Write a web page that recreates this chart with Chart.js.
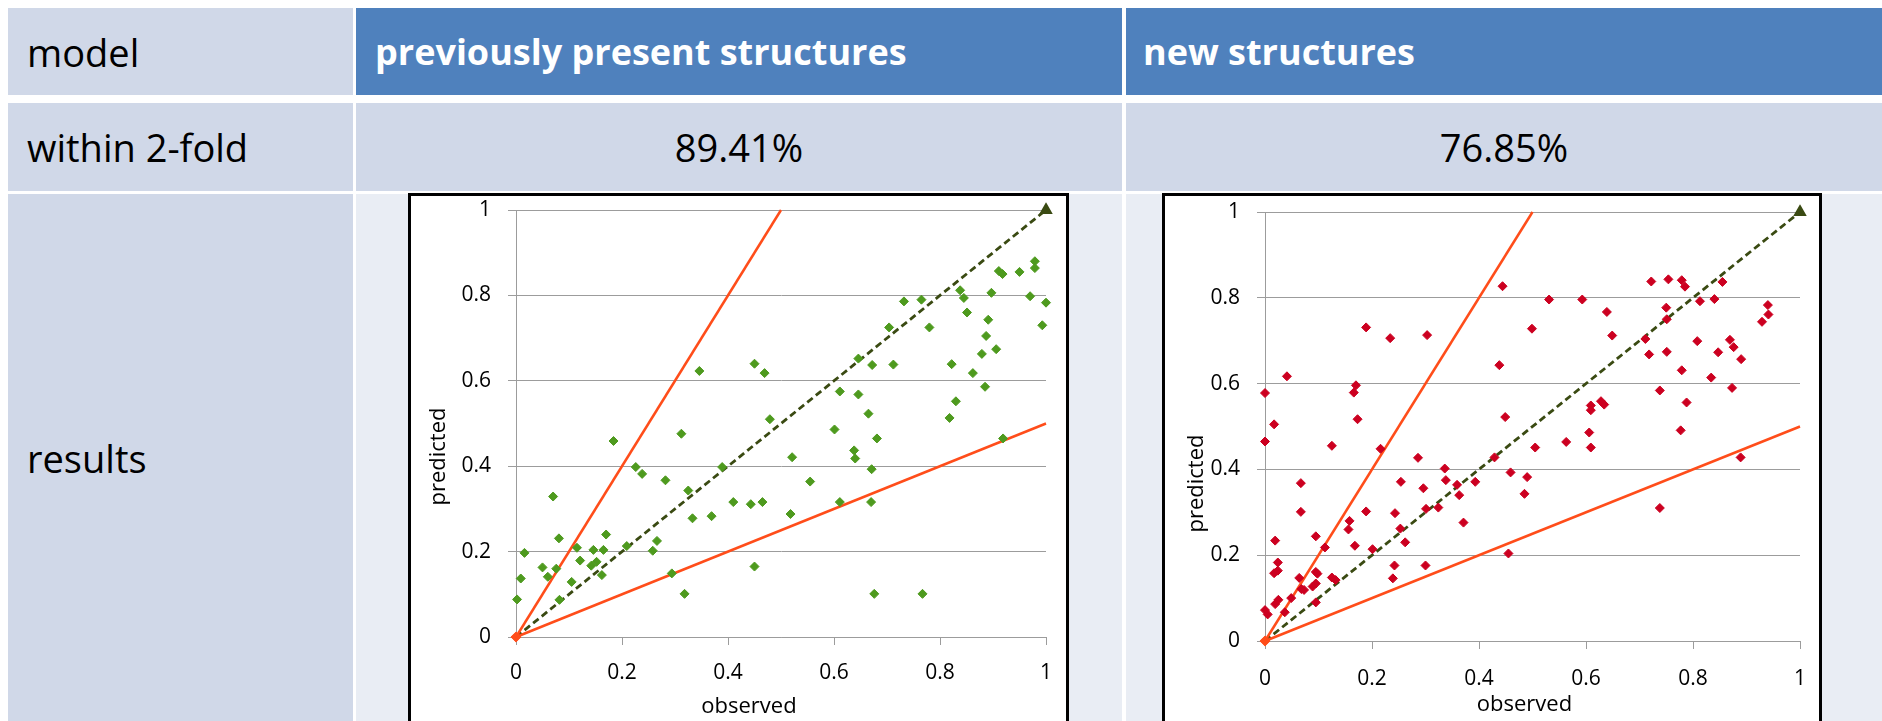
<!DOCTYPE html>
<html>
<head>
<meta charset="utf-8">
<script src="https://cdn.jsdelivr.net/npm/chart.js@4.4.1/dist/chart.umd.min.js"></script>
<style>
  html, body { margin: 0; padding: 0; width: 1882px; height: 721px; overflow: hidden; background: #fff; }
  body { position: relative; font-family: 'Open Sans', sans-serif; }
  .cell { position: absolute; box-sizing: border-box; display: flex; align-items: center; font-size: 38px; color: #000; }
  .col1 { left: 8px; width: 345px; padding-left: 19px; background: #d0d8e8; }
  .col2 { left: 356px; width: 766px; }
  .col3 { left: 1126px; width: 756px; }
  .row1 { top: 8px; height: 87px; }
  .row2 { top: 103px; height: 88px; }
  .row3 { top: 194px; height: 528px; }
  .head { background: #4f81bd; color: #fff; font-weight: bold; font-size: 36px; padding-left: 19px; }
  .head.col3 { padding-left: 17px; }
  .pct { background: #d0d8e8; justify-content: center; }
  .plotrow { background: #e9edf4; }
  .frame { position: absolute; top: 193px; height: 560px; box-sizing: border-box; border: 3px solid #000; background: #fff; }
  .chartbox { position: absolute; top: 0; left: 0; height: 540px; }
</style>
</head>
<body>
  <div class="cell col1 row1">model</div>
  <div class="cell col2 row1 head">previously present structures</div>
  <div class="cell col3 row1 head">new structures</div>

  <div class="cell col1 row2">within 2-fold</div>
  <div class="cell col2 row2 pct">89.41%</div>
  <div class="cell col3 row2 pct">76.85%</div>

  <div class="cell col1 row3">results</div>
  <div class="cell col2 row3 plotrow"></div>
  <div class="cell col3 row3 plotrow"></div>

  <div class="frame" style="left:408px; width:661px;">
    <div class="chartbox" style="width:655px;"><canvas id="prevChart"></canvas></div>
  </div>
  <div class="frame" style="left:1162px; width:660px;">
    <div class="chartbox" style="width:654px;"><canvas id="newChart"></canvas></div>
  </div>

<script>
// previously present structures: observed vs predicted
const prevObserved = [
  0.184, 0.346, 0.312, 0.450, 0.469, 0.479, 0.521, 0.601, 0.611, 0.646,
  0.646, 0.672, 0.665, 0.681, 0.638, 0.640, 0.712, 0.704, 0.732, 0.765,
  0.780, 0.822, 0.830, 0.818, 0.838, 0.845, 0.851, 0.862, 0.879, 0.887,
  0.891, 0.906, 0.885, 0.897, 0.911, 0.918, 0.950, 0.979, 0.979, 0.970,
  1.000, 0.993, 0.919, 0.226, 0.238, 0.282, 0.325, 0.389, 0.410, 0.333,
  0.369, 0.070, 0.081, 0.016, 0.009, 0.002, 0.050, 0.060, 0.076, 0.082,
  0.105, 0.115, 0.121, 0.146, 0.142, 0.152, 0.165, 0.162, 0.170, 0.209,
  0.258, 0.266, 0.294, 0.318, 0.671, 0.555, 0.443, 0.465, 0.518, 0.611,
  0.670, 0.450, 0.676, 0.767
];
const prevPredicted = [
  0.459, 0.623, 0.476, 0.640, 0.618, 0.510, 0.421, 0.486, 0.575, 0.568,
  0.652, 0.637, 0.523, 0.465, 0.437, 0.418, 0.638, 0.725, 0.786, 0.790,
  0.725, 0.639, 0.552, 0.513, 0.812, 0.794, 0.760, 0.618, 0.663, 0.705,
  0.743, 0.674, 0.586, 0.806, 0.857, 0.850, 0.855, 0.880, 0.864, 0.798,
  0.783, 0.730, 0.465, 0.398, 0.382, 0.367, 0.343, 0.398, 0.316, 0.278,
  0.283, 0.329, 0.231, 0.197, 0.137, 0.088, 0.163, 0.141, 0.160, 0.087,
  0.129, 0.209, 0.179, 0.204, 0.167, 0.176, 0.204, 0.145, 0.240, 0.213,
  0.202, 0.225, 0.149, 0.101, 0.393, 0.364, 0.311, 0.316, 0.288, 0.316,
  0.316, 0.165, 0.101, 0.101
];

// new structures: observed vs predicted
const newObserved = [
  0.000, 0.041, 0.017, 0.000, 0.189, 0.234, 0.303, 0.170, 0.166, 0.173,
  0.125, 0.216, 0.286, 0.444, 0.531, 0.593, 0.639, 0.649, 0.499, 0.438,
  0.449, 0.505, 0.563, 0.606, 0.609, 0.609, 0.609, 0.628, 0.634, 0.738,
  0.788, 0.777, 0.711, 0.718, 0.751, 0.750, 0.751, 0.722, 0.754, 0.779,
  0.785, 0.813, 0.840, 0.855, 0.808, 0.779, 0.834, 0.873, 0.847, 0.869,
  0.876, 0.890, 0.929, 0.940, 0.941, 0.889, 0.000, 0.005, 0.019, 0.024,
  0.017, 0.024, 0.019, 0.025, 0.037, 0.049, 0.064, 0.067, 0.067, 0.068,
  0.073, 0.089, 0.095, 0.095, 0.095, 0.098, 0.095, 0.112, 0.125, 0.132,
  0.158, 0.156, 0.168, 0.189, 0.201, 0.243, 0.254, 0.253, 0.262, 0.242,
  0.239, 0.296, 0.301, 0.300, 0.336, 0.338, 0.324, 0.359, 0.363, 0.371,
  0.393, 0.429, 0.459, 0.490, 0.485, 0.738, 0.455
];
const newPredicted = [
  0.578, 0.617, 0.505, 0.465, 0.731, 0.706, 0.713, 0.596, 0.579, 0.517,
  0.455, 0.448, 0.427, 0.827, 0.796, 0.796, 0.767, 0.712, 0.728, 0.643,
  0.522, 0.451, 0.464, 0.486, 0.451, 0.549, 0.538, 0.559, 0.551, 0.584,
  0.556, 0.491, 0.704, 0.668, 0.674, 0.777, 0.750, 0.838, 0.843, 0.841,
  0.826, 0.792, 0.797, 0.837, 0.699, 0.631, 0.614, 0.590, 0.673, 0.702,
  0.685, 0.657, 0.744, 0.783, 0.761, 0.428, 0.072, 0.062, 0.234, 0.183,
  0.158, 0.164, 0.086, 0.096, 0.067, 0.100, 0.147, 0.368, 0.301, 0.121,
  0.119, 0.127, 0.134, 0.244, 0.161, 0.157, 0.090, 0.218, 0.148, 0.142,
  0.280, 0.260, 0.222, 0.302, 0.214, 0.298, 0.371, 0.262, 0.230, 0.176,
  0.146, 0.356, 0.308, 0.176, 0.402, 0.375, 0.311, 0.364, 0.340, 0.276,
  0.371, 0.428, 0.393, 0.382, 0.343, 0.310, 0.204
];

// reference lines: 2-fold bounds and the 1:1 line
const upperBound = [[0, 0], [0.5, 1]];
const lowerBound = [[0, 0], [1, 0.5]];
const identityLine = [[0, 0], [1, 1]];

const tickValues = [0, 0.2, 0.4, 0.6, 0.8, 1];
const tickLabels = ['0', '0.2', '0.4', '0.6', '0.8', '1'];

const ORANGE = '#ff4d1a';
const OLIVE = '#3a4a12';
const GRID = '#9c9c9c';

Chart.defaults.font.family = "'Open Sans', sans-serif";
Chart.defaults.color = '#000';

const axisTitles = {
  id: 'axisTitles',
  afterDraw(chart, args, opts) {
    const { ctx, chartArea: a } = chart;
    ctx.save();
    ctx.font = `${opts.size}px 'Open Sans'`;
    ctx.fillStyle = '#000';
    ctx.textAlign = 'center';
    ctx.textBaseline = 'alphabetic';
    ctx.fillText(opts.x, (a.left + a.right) / 2 + opts.xdx, a.bottom + opts.xdy);
    ctx.translate(a.left + opts.ydx, (a.top + a.bottom) / 2 + opts.ydy);
    ctx.rotate(-Math.PI / 2);
    ctx.fillText(opts.y, 0, 0);
    ctx.restore();
  }
};

function toPoints(xs, ys) {
  return xs.map((x, i) => ({ x, y: ys[i] }));
}

function pairs(list) {
  return list.map(([x, y]) => ({ x, y }));
}

function fixedTicks(scale) {
  scale.ticks = tickValues.map((v) => ({ value: v }));
}

function makeChart(id, xs, ys, color, box) {
  const ctx = document.getElementById(id);
  return new Chart(ctx, {
    type: 'scatter',
    data: {
      datasets: [
        {
          label: 'structures',
          data: toPoints(xs, ys),
          backgroundColor: color,
          borderColor: color,
          borderWidth: 1,
          pointStyle: 'rectRot',
          pointRadius: 4.5,
          clip: false,
          order: 1,
        },
        {
          label: '2-fold upper',
          data: pairs(upperBound),
          showLine: true,
          borderColor: ORANGE,
          backgroundColor: ORANGE,
          borderWidth: 2.5,
          pointStyle: 'rectRot',
          pointRadius: [3.5, 0],
          clip: false,
          order: 2,
        },
        {
          label: '2-fold lower',
          data: pairs(lowerBound),
          showLine: true,
          borderColor: ORANGE,
          backgroundColor: ORANGE,
          borderWidth: 2.5,
          pointStyle: 'rectRot',
          pointRadius: [3.5, 0],
          clip: false,
          order: 2,
        },
        {
          label: '1:1',
          data: pairs(identityLine),
          showLine: true,
          borderColor: OLIVE,
          backgroundColor: OLIVE,
          borderWidth: 2.8,
          borderDash: [7, 4],
          pointStyle: 'triangle',
          pointRadius: [0, 5],
          clip: false,
          order: 3,
        }
      ]
    },
    options: {
      responsive: true,
      maintainAspectRatio: false,
      animation: false,
      layout: { padding: { left: 0, right: box.right, top: box.top, bottom: 0 } },
      plugins: {
        legend: { display: false },
        tooltip: { enabled: false },
        axisTitles: box.titles,
      },
      scales: {
        x: {
          type: 'linear',
          min: 0,
          max: 1,
          afterBuildTicks: fixedTicks,
          afterFit: (s) => {
            s.height = box.xHeight;
            s.paddingLeft = 0;
            s.paddingRight = 0;
          },
          ticks: {
            font: { size: 21 },
            padding: box.xPad,
            maxRotation: 0,
            callback: (v) => tickLabels[tickValues.indexOf(v)],
          },
          grid: { drawOnChartArea: false, drawTicks: true, tickLength: 8, color: GRID },
          border: { display: true, color: GRID, width: 1 },
        },
        y: {
          type: 'linear',
          min: 0,
          max: 1,
          afterBuildTicks: fixedTicks,
          afterFit: (s) => {
            s.width = box.yWidth;
            s.paddingTop = 0;
            s.paddingBottom = 0;
          },
          ticks: {
            font: { size: 21 },
            padding: 17,
            callback: (v) => tickLabels[tickValues.indexOf(v)],
          },
          grid: { drawOnChartArea: true, drawTicks: true, tickLength: 8, color: GRID },
          border: { display: true, color: GRID, width: 1 },
        }
      }
    },
    plugins: [axisTitles]
  });
}

makeChart('prevChart', prevObserved, prevPredicted, '#4e9a1e', {
  right: 20, top: 14, xHeight: 99, yWidth: 105, xPad: 15,
  titles: { x: 'observed', y: 'predicted', size: 22, xdx: -32, xdy: 76, ydx: -71, ydy: 33 }
});

makeChart('newChart', newObserved, newPredicted, '#cc0020', {
  right: 19, top: 16, xHeight: 95, yWidth: 100, xPad: 17,
  titles: { x: 'observed', y: 'predicted', size: 22, xdx: -8, xdy: 70, ydx: -62, ydy: 57 }
});
</script>
</body>
</html>
